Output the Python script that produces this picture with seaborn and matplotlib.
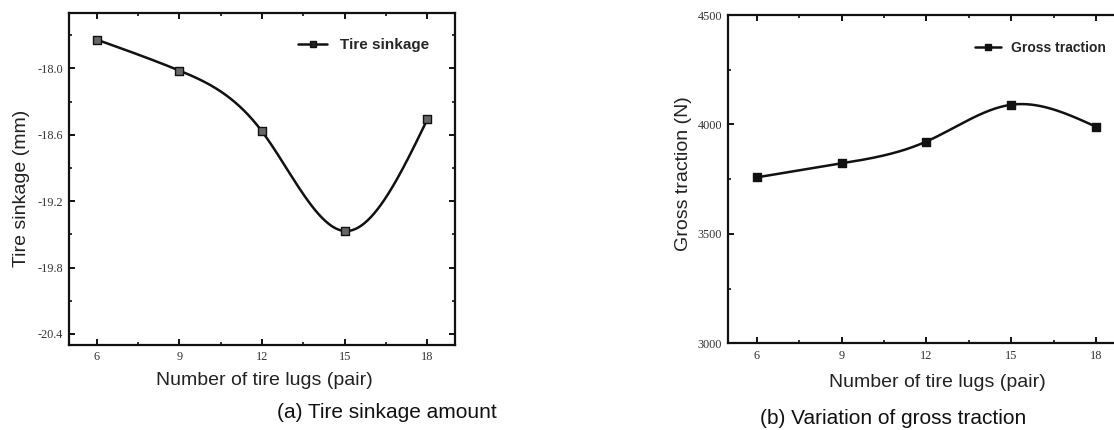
import numpy as np
import pandas as pd
import matplotlib
matplotlib.use("Agg")
import matplotlib.pyplot as plt
from matplotlib.ticker import MultipleLocator, FixedLocator
from matplotlib.lines import Line2D
import seaborn as sns

# ---- data ----
lugs = [6, 9, 12, 15, 18]
sinkage = [-17.74, -18.02, -18.57, -19.47, -18.46]
traction = [3758, 3822, 3922, 4090, 3989]

x_ticks = [6, 9, 12, 15, 18]
sink_ticks = [-18.0, -18.6, -19.2, -19.8, -20.4]
trac_ticks = [3000, 3500, 4000, 4500]

sns.set_theme(style="ticks")
plt.rcParams["font.family"] = ["Liberation Sans", "DejaVu Sans"]


def natural_spline(x, y, n=300):
    """Smooth curve through the data points (natural cubic spline)."""
    x = np.asarray(x, float)
    y = np.asarray(y, float)
    k = len(x)
    h = np.diff(x)
    A = np.zeros((k, k))
    b = np.zeros(k)
    A[0, 0] = A[-1, -1] = 1
    for i in range(1, k - 1):
        A[i, i - 1] = h[i - 1]
        A[i, i] = 2 * (h[i - 1] + h[i])
        A[i, i + 1] = h[i]
        b[i] = 6 * ((y[i + 1] - y[i]) / h[i] - (y[i] - y[i - 1]) / h[i - 1])
    M = np.linalg.solve(A, b)
    xs = np.linspace(x[0], x[-1], n)
    idx = np.clip(np.searchsorted(x, xs) - 1, 0, k - 2)
    x0, x1 = x[idx], x[idx + 1]
    hh = x1 - x0
    t0, t1 = x1 - xs, xs - x0
    ys = (M[idx] * t0 ** 3 / (6 * hh) + M[idx + 1] * t1 ** 3 / (6 * hh)
          + (y[idx] / hh - M[idx] * hh / 6) * t0
          + (y[idx + 1] / hh - M[idx + 1] * hh / 6) * t1)
    return xs, ys


W, H = 1114, 430
fig = plt.figure(figsize=(W / 100, H / 100), dpi=100)
fig.patch.set_facecolor("white")

axA = fig.add_axes([69 / W, 1 - 345 / H, 386 / W, 332 / H])
axB = fig.add_axes([728.3 / W, 1 - 343.3 / H, 396.2 / W, 328.3 / H])

tick_font = dict(family=["Liberation Serif", "DejaVu Serif"], size=8.8)


def style(ax, yt, ymin_step):
    ax.set_facecolor("white")
    for s in ax.spines.values():
        s.set_visible(True)
        s.set_linewidth(1.6)
        s.set_color("#111111")
    ax.xaxis.set_major_locator(FixedLocator(x_ticks))
    ax.xaxis.set_minor_locator(MultipleLocator(1.5))
    ax.yaxis.set_major_locator(FixedLocator(yt))
    ax.yaxis.set_minor_locator(MultipleLocator(ymin_step))
    ax.tick_params(which="both", direction="in", top=True, right=True,
                   color="#111111")
    ax.tick_params(which="major", length=4.5, width=1.4, pad=4.5,
                   labelcolor="#333333")
    ax.tick_params(which="minor", length=2.5, width=1.2)
    ax.set_xticklabels([str(v) for v in x_ticks])
    for lab in ax.get_xticklabels() + ax.get_yticklabels():
        lab.set_fontfamily(tick_font["family"])
        lab.set_fontsize(tick_font["size"])
    ax.grid(False)


# ---- panel (a) ----
xs, ys = natural_spline(lugs, sinkage)
sns.lineplot(x=xs, y=ys, ax=axA, color="#111111", lw=1.8, sort=False)
dfA = pd.DataFrame({"lugs": lugs, "sinkage": sinkage})
sns.scatterplot(data=dfA, x="lugs", y="sinkage", ax=axA, marker="s", s=30,
                color="#666666", edgecolor="#111111", linewidth=1.0, zorder=5)
axA.set_xlim(5, 19)
axA.set_ylim(-20.5, -17.5)
style(axA, sink_ticks, 0.3)
axA.set_yticklabels([f"{v:.1f}" for v in sink_ticks])
for lab in axA.get_yticklabels():
    lab.set_fontfamily(tick_font["family"])
    lab.set_fontsize(tick_font["size"])
axA.set_xlabel("Number of tire lugs (pair)", fontsize=14, color="#222222")
axA.set_ylabel("Tire sinkage (mm)", fontsize=14, color="#222222", va="center")
axA.xaxis.set_label_coords(0.5065, -0.108)
axA.xaxis.label.set_va("center")
axA.yaxis.set_label_coords(-0.1218, 0.4714)

hA = Line2D([], [], color="#111111", lw=1.8, marker="s", markersize=5,
            markerfacecolor="#222222", markeredgecolor="#111111")
axA.legend([hA], ["Tire sinkage"], loc="center left",
           bbox_to_anchor=(298 / W, 1 - 45 / H), bbox_transform=fig.transFigure,
           frameon=False, borderpad=0, borderaxespad=0, handlelength=1.9,
           handletextpad=0.85, prop=dict(family="Liberation Sans", weight="bold", size=11))

# ---- panel (b) ----
xs, ys = natural_spline(lugs, traction)
sns.lineplot(x=xs, y=ys, ax=axB, color="#111111", lw=1.8, sort=False)
dfB = pd.DataFrame({"lugs": lugs, "traction": traction})
sns.scatterplot(data=dfB, x="lugs", y="traction", ax=axB, marker="s", s=30,
                color="#111111", edgecolor="#111111", linewidth=1.0, zorder=5)
axB.set_xlim(5, 19)
axB.set_ylim(3000, 4500)
style(axB, trac_ticks, 250)
axB.set_yticklabels([str(v) for v in trac_ticks])
for lab in axB.get_yticklabels():
    lab.set_fontfamily(tick_font["family"])
    lab.set_fontsize(tick_font["size"])
axB.set_xlabel("Number of tire lugs (pair)", fontsize=14, color="#222222")
axB.set_ylabel("Gross traction (N)", fontsize=14, color="#222222", va="center")
axB.xaxis.set_label_coords(0.528, -0.118)
axB.xaxis.label.set_va("center")
axB.yaxis.set_label_coords(-0.113, 0.5157)

hB = Line2D([], [], color="#111111", lw=1.8, marker="s", markersize=5,
            markerfacecolor="#111111", markeredgecolor="#111111")
axB.legend([hB], ["Gross traction"], loc="center left",
           bbox_to_anchor=(975 / W, 1 - 48 / H), bbox_transform=fig.transFigure,
           frameon=False, borderpad=0, borderaxespad=0, handlelength=1.9,
           handletextpad=0.7, prop=dict(family="Liberation Sans", weight="bold", size=10))

# ---- captions ----
fig.text(387 / W, 1 - 413 / H, "(a) Tire sinkage amount", fontsize=15,
         ha="center", va="center", color="#111111")
fig.text(893.5 / W, 1 - 418 / H, "(b) Variation of gross traction", fontsize=15,
         ha="center", va="center", color="#111111")

fig.savefig("out.png", dpi=100, facecolor="white")
